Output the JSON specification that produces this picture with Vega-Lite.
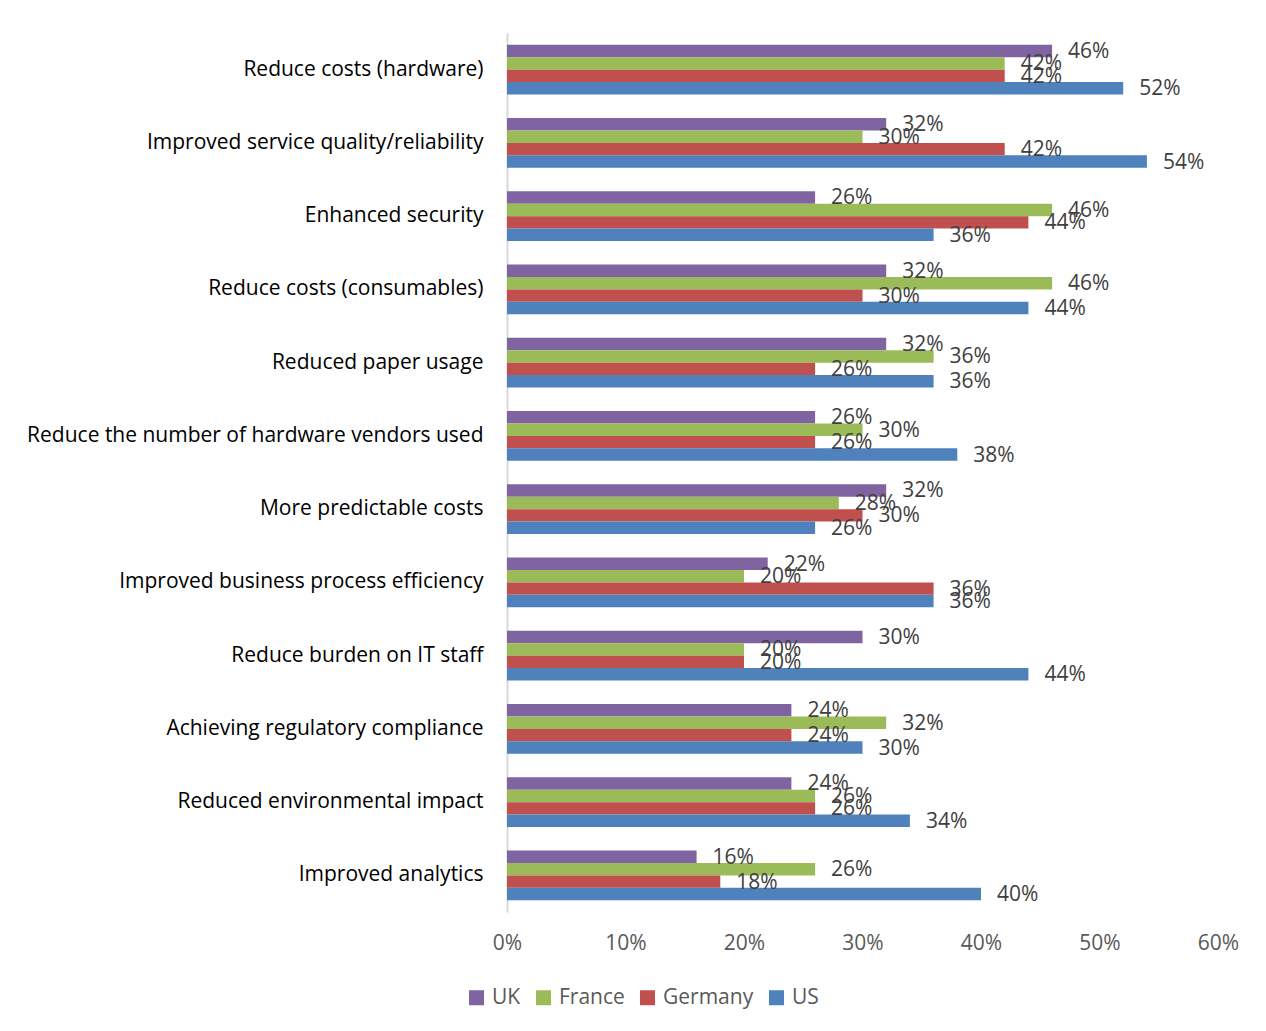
{
  "$schema": "https://vega.github.io/schema/vega-lite/v6.json",
  "width": 711,
  "height": 879,
  "autosize": {"type": "none"},
  "padding": {"left": 507, "top": 33, "right": 48, "bottom": 119},
  "background": "white",
  "config": {
    "font": "Open Sans",
    "view": {"stroke": null}
  },
  "data": {
    "values": [
      {"category": "Reduce costs (hardware)", "series": "UK", "value": 0.46},
      {"category": "Reduce costs (hardware)", "series": "France", "value": 0.42},
      {"category": "Reduce costs (hardware)", "series": "Germany", "value": 0.42},
      {"category": "Reduce costs (hardware)", "series": "US", "value": 0.52},
      {"category": "Improved service quality/reliability", "series": "UK", "value": 0.32},
      {"category": "Improved service quality/reliability", "series": "France", "value": 0.30},
      {"category": "Improved service quality/reliability", "series": "Germany", "value": 0.42},
      {"category": "Improved service quality/reliability", "series": "US", "value": 0.54},
      {"category": "Enhanced security", "series": "UK", "value": 0.26},
      {"category": "Enhanced security", "series": "France", "value": 0.46},
      {"category": "Enhanced security", "series": "Germany", "value": 0.44},
      {"category": "Enhanced security", "series": "US", "value": 0.36},
      {"category": "Reduce costs (consumables)", "series": "UK", "value": 0.32},
      {"category": "Reduce costs (consumables)", "series": "France", "value": 0.46},
      {"category": "Reduce costs (consumables)", "series": "Germany", "value": 0.30},
      {"category": "Reduce costs (consumables)", "series": "US", "value": 0.44},
      {"category": "Reduced paper usage", "series": "UK", "value": 0.32},
      {"category": "Reduced paper usage", "series": "France", "value": 0.36},
      {"category": "Reduced paper usage", "series": "Germany", "value": 0.26},
      {"category": "Reduced paper usage", "series": "US", "value": 0.36},
      {"category": "Reduce the number of hardware vendors used", "series": "UK", "value": 0.26},
      {"category": "Reduce the number of hardware vendors used", "series": "France", "value": 0.30},
      {"category": "Reduce the number of hardware vendors used", "series": "Germany", "value": 0.26},
      {"category": "Reduce the number of hardware vendors used", "series": "US", "value": 0.38},
      {"category": "More predictable costs", "series": "UK", "value": 0.32},
      {"category": "More predictable costs", "series": "France", "value": 0.28},
      {"category": "More predictable costs", "series": "Germany", "value": 0.30},
      {"category": "More predictable costs", "series": "US", "value": 0.26},
      {"category": "Improved business process efficiency", "series": "UK", "value": 0.22},
      {"category": "Improved business process efficiency", "series": "France", "value": 0.20},
      {"category": "Improved business process efficiency", "series": "Germany", "value": 0.36},
      {"category": "Improved business process efficiency", "series": "US", "value": 0.36},
      {"category": "Reduce burden on IT staff", "series": "UK", "value": 0.30},
      {"category": "Reduce burden on IT staff", "series": "France", "value": 0.20},
      {"category": "Reduce burden on IT staff", "series": "Germany", "value": 0.20},
      {"category": "Reduce burden on IT staff", "series": "US", "value": 0.44},
      {"category": "Achieving regulatory compliance", "series": "UK", "value": 0.24},
      {"category": "Achieving regulatory compliance", "series": "France", "value": 0.32},
      {"category": "Achieving regulatory compliance", "series": "Germany", "value": 0.24},
      {"category": "Achieving regulatory compliance", "series": "US", "value": 0.30},
      {"category": "Reduced environmental impact", "series": "UK", "value": 0.24},
      {"category": "Reduced environmental impact", "series": "France", "value": 0.26},
      {"category": "Reduced environmental impact", "series": "Germany", "value": 0.26},
      {"category": "Reduced environmental impact", "series": "US", "value": 0.34},
      {"category": "Improved analytics", "series": "UK", "value": 0.16},
      {"category": "Improved analytics", "series": "France", "value": 0.26},
      {"category": "Improved analytics", "series": "Germany", "value": 0.18},
      {"category": "Improved analytics", "series": "US", "value": 0.40}
    ]
  },
  "encoding": {
    "y": {
      "field": "category",
      "type": "nominal",
      "sort": null,
      "scale": {"paddingInner": 0.32, "paddingOuter": 0.16},
      "axis": {
        "title": null,
        "ticks": false,
        "labelFontSize": 21,
        "labelColor": "#000000",
        "labelPadding": 24,
        "labelLimit": 600,
        "domainColor": "#d9d9d9",
        "domainWidth": 2
      }
    },
    "yOffset": {
      "field": "series",
      "type": "nominal",
      "sort": ["UK", "France", "Germany", "US"],
      "scale": {"paddingInner": 0, "paddingOuter": 0}
    },
    "x": {
      "field": "value",
      "type": "quantitative",
      "scale": {"domain": [0, 0.6], "nice": false},
      "axis": {
        "title": null,
        "format": ".0%",
        "values": [0, 0.1, 0.2, 0.3, 0.4, 0.5, 0.6],
        "grid": false,
        "domain": false,
        "ticks": false,
        "labelFlush": false,
        "labelFontSize": 21,
        "labelColor": "#595959",
        "labelPadding": 20
      }
    }
  },
  "layer": [
    {
      "mark": {"type": "bar"},
      "encoding": {
        "color": {
          "field": "series",
          "type": "nominal",
          "scale": {
            "domain": ["UK", "France", "Germany", "US"],
            "range": ["#8064A2", "#9BBB59", "#C0504D", "#4F81BD"]
          },
          "legend": {
            "title": null,
            "orient": "none",
            "direction": "horizontal",
            "legendX": -41,
            "legendY": 954,
            "symbolType": "square",
            "symbolSize": 225,
            "symbolStrokeWidth": 0,
            "labelFontSize": 21,
            "labelColor": "#595959",
            "labelOffset": 5,
            "columnPadding": 12
          }
        }
      }
    },
    {
      "mark": {"type": "text", "align": "left", "baseline": "middle", "dx": 16, "dy": 1, "fontSize": 21, "color": "#404040"},
      "encoding": {
        "text": {"field": "value", "type": "quantitative", "format": ".0%"}
      }
    }
  ]
}
